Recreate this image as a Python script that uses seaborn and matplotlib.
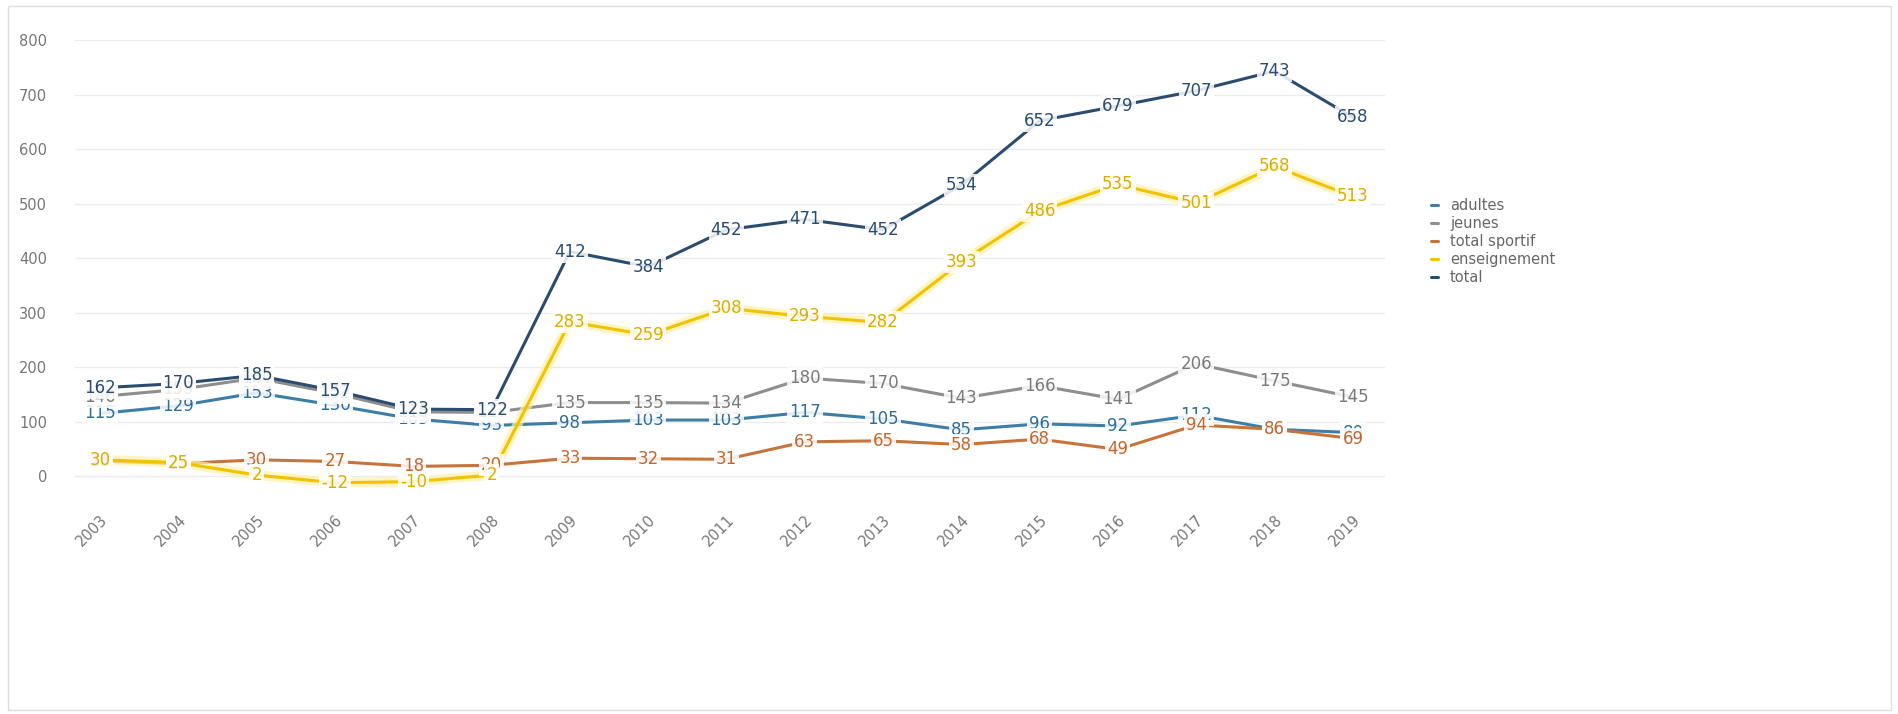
import pandas as pd
import matplotlib.pyplot as plt
import matplotlib.patheffects as pe
from matplotlib.patches import Rectangle
import seaborn as sns

years = ['2003', '2004', '2005', '2006', '2007', '2008', '2009', '2010', '2011',
         '2012', '2013', '2014', '2015', '2016', '2017', '2018', '2019']
adultes = [115, 129, 153, 130, 105, 93, 98, 103, 103, 117, 105, 85, 96, 92, 112, 86, 80]
jeunes = [146, 159, 180, 152, 118, 117, 135, 135, 134, 180, 170, 143, 166, 141, 206, 175, 145]
total_sportif = [28, 23, 30, 27, 18, 20, 33, 32, 31, 63, 65, 58, 68, 49, 94, 86, 69]
enseignement = [30, 25, 2, -12, -10, 2, 283, 259, 308, 293, 282, 393, 486, 535, 501, 568, 513]
total = [162, 170, 185, 157, 123, 122, 412, 384, 452, 471, 452, 534, 652, 679, 707, 743, 658]

series = {'adultes': adultes, 'jeunes': jeunes, 'total sportif': total_sportif,
          'enseignement': enseignement, 'total': total}
colors = {'adultes': '#3D7EA6', 'jeunes': '#8E8E8E', 'total sportif': '#C8733A',
          'enseignement': '#F2C200', 'total': '#2B4C6F'}
label_colors = {'adultes': '#2F6F96', 'jeunes': '#7A7A7A', 'total sportif': '#C0682E',
                'enseignement': '#D9AE00', 'total': '#2B4C6F'}

rows = []
for name, vals in series.items():
    for i, v in enumerate(vals):
        rows.append({'x': i, 'year': years[i], 'value': v, 'serie': name})
df = pd.DataFrame(rows)

sns.set_style('white')
fig = plt.figure(figsize=(18.99, 7.14), dpi=100)
ax = fig.add_axes([75 / 1899, 1 - 498 / 714, 1310 / 1899, 458 / 714])

sns.lineplot(data=df, x='x', y='value', hue='serie', palette=colors,
             hue_order=list(series.keys()), linewidth=2.2, ax=ax)

# glow on the yellow line
for line, name in zip(ax.get_lines(), series.keys()):
    if name == 'enseignement':
        line.set_path_effects([pe.Stroke(linewidth=7, foreground='#FFF1A8', alpha=0.7), pe.Normal()])

for name, vals in series.items():
    for i, v in enumerate(vals):
        ax.text(i, v, str(v), ha='center', va='center', fontsize=12,
                color=label_colors[name], zorder=5,
                bbox=dict(boxstyle='square,pad=0.12', facecolor='white', edgecolor='none', alpha=0.85))

ax.set_xlim(-0.32, 16.41)
ax.set_ylim(-40, 800)
ax.set_yticks(range(0, 801, 100))
ax.set_xticks(range(len(years)))
ax.set_xticklabels(years, rotation=45, ha='right', rotation_mode='anchor')
ax.tick_params(axis='both', colors='#777777', labelsize=10.5, length=0)
ax.tick_params(axis='x', pad=10)
ax.tick_params(axis='y', pad=20)
ax.yaxis.grid(True, color='#EBEBEB', linewidth=1)
ax.set_xlabel('')
ax.set_ylabel('')
for s in ax.spines.values():
    s.set_visible(False)

sns.move_legend(ax, 'center left', bbox_to_anchor=(1.025, 0.56), frameon=False,
                title=None, fontsize=10.5, handlelength=0.5, handletextpad=0.8,
                labelspacing=0.2)
for t in ax.get_legend().get_texts():
    t.set_color('#666666')

fig.patches.append(Rectangle((8 / 1899, 0.005), 1 - 16 / 1899, 1 - 10 / 714,
                             transform=fig.transFigure, fill=False,
                             edgecolor='#DDDDDD', linewidth=1))

fig.savefig('out.png', dpi=100)
